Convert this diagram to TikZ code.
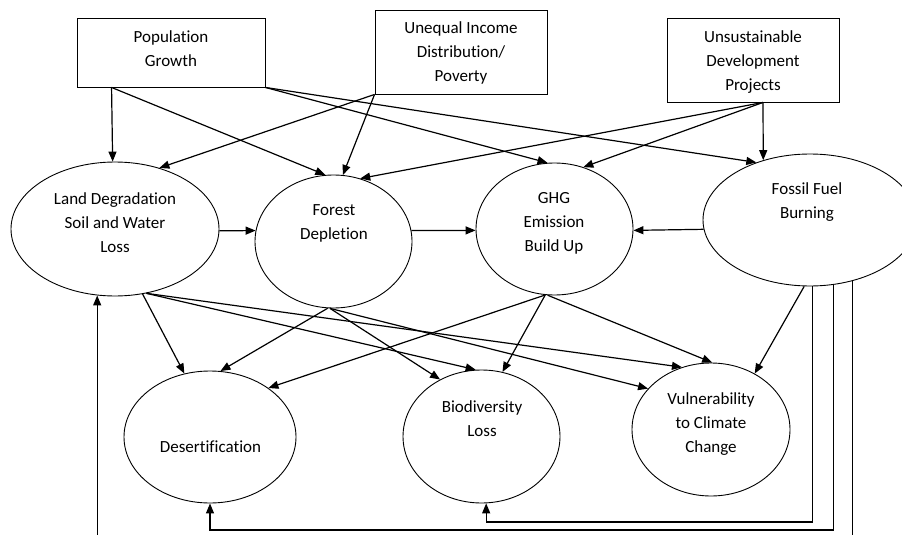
\documentclass[tikz,border=0pt]{standalone}
\usepackage{fontspec}
\setmainfont{Carlito}[Ligatures={NoCommon}]
\usetikzlibrary{shapes.geometric,arrows.meta}
\begin{document}
\begin{tikzpicture}[x=1pt,y=-1pt,
  box/.style={draw,line width=0.9pt,inner sep=0pt},
  ell/.style={draw,ellipse,line width=0.9pt,inner sep=0pt},
  txt/.style={align=center,font=\fontsize{17}{24}\selectfont,inner sep=0pt},
  arr/.style={line width=1.2pt,-{Triangle[length=10pt,width=8pt]}},
  fbk/.style={line width=1.2pt}]
\useasboundingbox (0,0) rectangle (902,535);
\clip (0,0) rectangle (902,535);

% top boxes
\node[box,minimum width=188pt,minimum height=69pt] (pop) at (171,52.5) {};
\node[txt] (popT) at (171,49) {Population\\Growth};
\node[box,minimum width=172pt,minimum height=84pt] (uneq) at (461,52) {};
\node[txt] (uneqT) at (461,53) {Unequal Income\\Distribution/\\Poverty};
\node[box,minimum width=172pt,minimum height=84pt] (unsus) at (753,60) {};
\node[txt] (unsusT) at (753,62) {Unsustainable\\Development\\Projects};

% middle ellipses
\node[ell,minimum width=208pt,minimum height=134pt] (land) at (115,229) {};
\node[txt] (landT) at (115,223) {Land Degradation\\Soil and Water\\Loss};
\node[ell,minimum width=157pt,minimum height=133pt] (forest) at (333.5,241.5) {};
\node[txt] (forestT) at (334,223) {Forest\\Depletion};
\node[ell,minimum width=157pt,minimum height=132pt] (ghg) at (554.5,229) {};
\node[txt] (ghgT) at (554,223) {GHG\\Emission\\Build Up};
\node[ell,minimum width=214pt,minimum height=132pt] (fossil) at (810,220) {};
\node[txt] (fossilT) at (807,202) {Fossil Fuel\\Burning};

% bottom ellipses
\node[ell,minimum width=172pt,minimum height=132pt] (desert) at (210,437) {};
\node[txt] (desertT) at (210.5,447) {Desertification};
\node[ell,minimum width=157pt,minimum height=133pt] (bio) at (481.5,436.5) {};
\node[txt] (bioT) at (482,419) {Biodiversity\\Loss};
\node[ell,minimum width=158pt,minimum height=133pt] (vuln) at (711,429.5) {};
\node[txt] (vulnT) at (711,424) {Vulnerability\\to Climate\\Change};

% from the boxes
\draw[arr] ([xshift=35pt]pop.south west) -- (land.92);
\draw[arr] ([xshift=35pt]pop.south west) -- (forest.97.4);
\draw[arr] (pop.south east) -- (ghg.96.5);
\draw[arr] (pop.south east) -- (fossil.133);
\draw[arr] (uneq.south west) -- (land.54.5);
\draw[arr] (uneq.south west) -- (forest.82);
\draw[arr] ([xshift=10pt]unsus.south) -- (fossil.128.4);
\draw[arr] ([xshift=10pt]unsus.south) -- (ghg.65.2);
\draw[arr] ([xshift=10pt]unsus.south) -- (forest.67.8);

% middle row
\draw[arr] (land.-1) -- (forest.172);
\draw[arr] (forest.8) -- (ghg.181.5);
\draw[arr] (fossil.185.3) -- (ghg.-1);

% down to the bottom row
\draw[arr] (land.-67) -- (desert.112);
\draw[arr] (land.-64) -- (bio.95.6);
\draw[arr] (land.-64) -- (vuln.115.2);
\draw[arr] (forest.-95) -- (desert.81.5);
\draw[arr] (forest.-93) -- (bio.126.8);
\draw[arr] (forest.-93) -- (vuln.147.2);
\draw[arr] (ghg.-98) -- (desert.40.7);
\draw[arr] (ghg.-98) -- (bio.72.1);
\draw[arr] (ghg.-96) -- (vuln.89);
\draw[arr] (fossil.-95.2) -- (vuln.52.3);

% feedback lines
\coordinate (fbA) at (0,522);
\coordinate (fbB) at (0,530);
\coordinate (fbC) at (0,560);
\draw[arr] (fossil.-88.3) -- (fossil.-88.3 |- fbA) -| (bio.-86);
\draw[arr] (fossil.-70.4) -- (fossil.-70.4 |- fbB) -| (desert.south);
\draw[arr] (fossil.-55.3) -- (fossil.-55.3 |- fbC) -| (land.-105);
\end{tikzpicture}
\end{document}
